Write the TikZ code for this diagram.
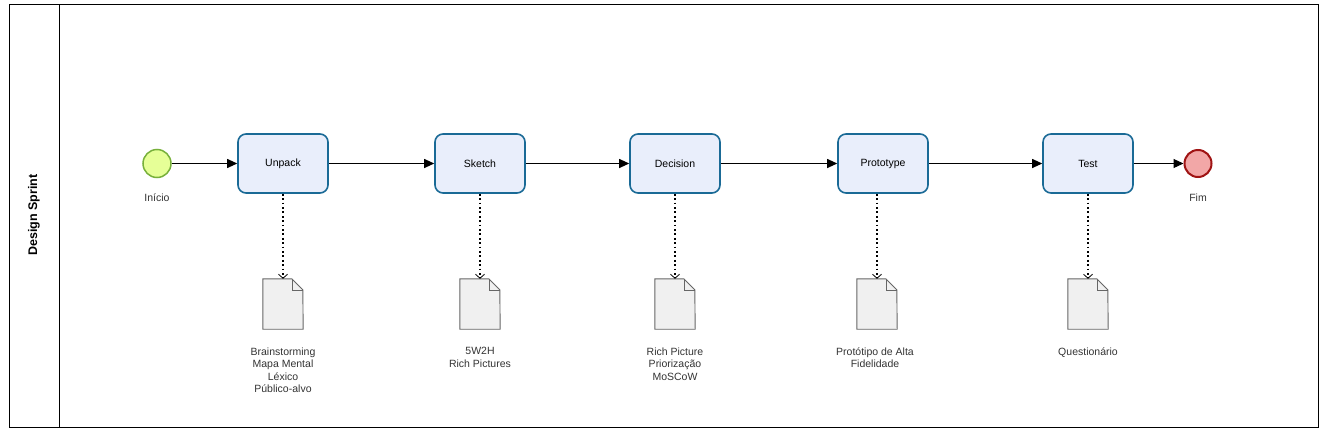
\documentclass[tikz,border=0pt]{standalone}
\usepackage{fontspec}
\setmainfont{Liberation Sans}
\usepackage{xcolor}
\usetikzlibrary{arrows.meta}

\definecolor{startfill}{HTML}{E6FF97}
\definecolor{startline}{HTML}{77B03A}
\definecolor{endfill}{HTML}{F2A7A7}
\definecolor{endline}{HTML}{A01414}
\definecolor{taskfill}{HTML}{E9EEFB}
\definecolor{taskline}{HTML}{1A6A96}
\definecolor{docfill}{HTML}{F0F0F0}
\definecolor{docline}{HTML}{666666}
\definecolor{labeltext}{HTML}{333333}

\tikzset{
    task/.style={draw=taskline, fill=taskfill, line width=1.6pt, rounded corners=8pt,
        minimum width=90pt, minimum height=59pt, font=\fontsize{10.5}{12}\selectfont},
    startev/.style={circle, draw=startline, fill=startfill, line width=1.5pt, minimum size=28pt, inner sep=0pt},
    endev/.style={circle, draw=endline, fill=endfill, line width=2pt, minimum size=27pt, inner sep=0pt},
    docbox/.style={minimum width=40pt, minimum height=50pt, inner sep=0pt},
    docshape/.style={draw=docline, fill=docfill, line width=0.9pt},
    doctext/.style={anchor=north, align=center, text=labeltext, font=\fontsize{10.5}{12.5}\selectfont},
    evtext/.style={text=labeltext, font=\fontsize{10.5}{12}\selectfont},
    flow/.style={-{Triangle[length=10pt,width=9pt]}, line width=1pt},
    assoc/.style={-{Straight Barb[length=4pt,width=9pt,line width=0.8pt]}, line width=1.8pt,
        dash pattern=on 1.8pt off 2.6pt}
}

\begin{document}
\begin{tikzpicture}[x=1pt, y=-1pt]
    \useasboundingbox (0,0) rectangle (1324,431);

    % pool and lane
    \draw[line width=1pt] (9,4) rectangle (1318,427);
    \draw[line width=1pt] (59,4) -- (59,427);
    \node[rotate=90, font=\fontsize{12.5}{14}\selectfont\bfseries] (lane) at (34,215) {Design Sprint};

    % events
    \node[startev] (inicio) at (157,163.5) {};
    \node[evtext] (inicioT) at (157,198) {Início};
    \node[endev] (fim) at (1198,163.5) {};
    \node[evtext] (fimT) at (1198,198) {Fim};

    % tasks
    \node[task] (unpack) at (283,163.5) {Unpack};
    \node[task] (sketch) at (480,163.5) {Sketch};
    \node[task] (decision) at (675,163.5) {Decision};
    \node[task] (prototype) at (883,163.5) {Prototype};
    \node[task] (test) at (1088,163.5) {Test};

    \draw[flow] (inicio) -- (unpack);
    \draw[flow] (unpack) -- (sketch);
    \draw[flow] (sketch) -- (decision);
    \draw[flow] (decision) -- (prototype);
    \draw[flow] (prototype) -- (test);
    \draw[flow] (test) -- (fim);

    % artifacts
    \node[docbox] (docU) at (283,304) {};
    \node[docbox] (docS) at (480,304) {};
    \node[docbox] (docD) at (675,304) {};
    \node[docbox] (docP) at (877,304) {};
    \node[docbox] (docT) at (1088,304) {};

    \foreach \d in {docU,docS,docD,docP,docT}{
        \draw[docshape] (\d.south west) -- (\d.north west) -- ++(29,0) -- ++(11,11)
            -- (\d.south east) -- cycle;
        \draw[docline, line width=0.5pt] (\d.north west) ++(29,0) -- ++(0,11) -- ++(11,0);
    }

    \draw[assoc] (unpack.south) -- (docU.north);
    \draw[assoc] (sketch.south) -- (docS.north);
    \draw[assoc] (decision.south) -- (docD.north);
    \draw[assoc] (prototype.south -| docP.north) -- (docP.north);
    \draw[assoc] (test.south) -- (docT.north);

    \node[doctext] (txtU) at (283,344) {Brainstorming\\Mapa Mental\\Léxico\\Público-alvo};
    \node[doctext] (txtS) at (480,344) {5W2H\\Rich Pictures};
    \node[doctext] (txtD) at (675,344) {Rich Picture\\Priorização\\MoSCoW};
    \node[doctext] (txtP) at (875,344) {Protótipo de Alta\\Fidelidade};
    \node[doctext] (txtT) at (1088,344) {Questionário};
\end{tikzpicture}
\end{document}
